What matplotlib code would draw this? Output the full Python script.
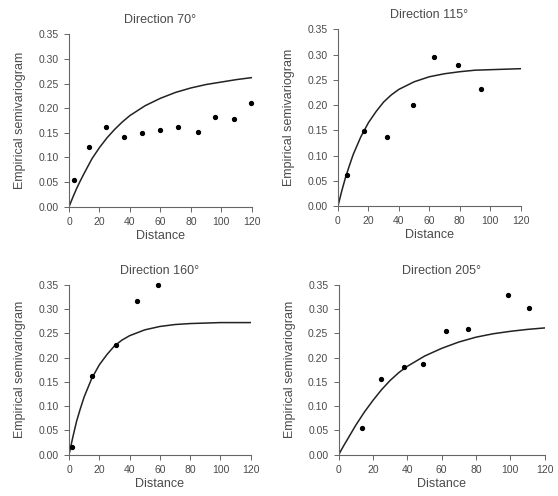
import numpy as np
import matplotlib
matplotlib.use("Agg")
from matplotlib import pyplot as plt

plt.rcParams['font.family'] = ['Liberation Sans', 'DejaVu Sans']

# panel titles
directions = ['Direction 70°', 'Direction 115°', 'Direction 160°', 'Direction 205°']

# empirical semivariogram points (distance, value)
d70 = [3.3, 13.4, 24.5, 35.9, 47.7, 59.8, 71.4, 84.5, 95.9, 108.2, 119.8]
g70 = [0.055, 0.121, 0.162, 0.142, 0.150, 0.155, 0.161, 0.151, 0.183, 0.178, 0.211]

d115 = [5.9, 16.9, 32.2, 49.3, 63.1, 79.0, 93.9]
g115 = [0.061, 0.149, 0.137, 0.200, 0.296, 0.279, 0.231]

d160 = [2.0, 15.5, 30.9, 44.7, 58.8]
g160 = [0.016, 0.162, 0.226, 0.317, 0.349]

d205 = [13.4, 24.9, 38.1, 49.1, 62.7, 75.5, 98.6, 110.7]
g205 = [0.055, 0.156, 0.180, 0.187, 0.254, 0.258, 0.329, 0.303]

# fitted model curves, read at these distances
curve_d = [0, 2.5, 5, 7.5, 10, 15, 20, 25, 30, 35, 40, 50, 60, 70, 80, 90, 100, 110, 120]
fit70 = [0, 0.019, 0.037, 0.053, 0.068, 0.097, 0.120, 0.140, 0.157, 0.172, 0.185,
         0.205, 0.220, 0.232, 0.241, 0.248, 0.253, 0.258, 0.262]
fit115 = [0, 0.030, 0.057, 0.080, 0.102, 0.137, 0.165, 0.187, 0.206, 0.220, 0.231,
          0.246, 0.256, 0.262, 0.266, 0.269, 0.270, 0.271, 0.272]
fit160 = [0, 0.036, 0.069, 0.095, 0.119, 0.157, 0.185, 0.206, 0.224, 0.236, 0.245,
          0.257, 0.264, 0.268, 0.270, 0.271, 0.272, 0.272, 0.272]
fit205 = [0, 0.016, 0.031, 0.046, 0.061, 0.088, 0.112, 0.134, 0.153, 0.169, 0.182,
          0.203, 0.219, 0.232, 0.242, 0.249, 0.254, 0.258, 0.261]

xticks = [0, 20, 40, 60, 80, 100, 120]
yticks = [0.00, 0.05, 0.10, 0.15, 0.20, 0.25, 0.30, 0.35]

points = [(d70, g70), (d115, g115), (d160, g160), (d205, g205)]
fits = [fit70, fit115, fit160, fit205]

# axes boxes in figure fractions [left, bottom, width, height]
boxes = [[0.1237, 0.5833, 0.3274, 0.3476],
         [0.6057, 0.5847, 0.3274, 0.3562],
         [0.1237, 0.0833, 0.3256, 0.3427],
         [0.6070, 0.0833, 0.3692, 0.3427]]

fig = plt.figure(figsize=(5.58, 4.96), dpi=100)
ink = '#4a4a4a'

for i in range(4):
    ax = fig.add_axes(boxes[i])
    ax.plot(curve_d, fits[i], color='#222222', lw=1.1, zorder=2)
    ax.plot(points[i][0], points[i][1], 'o', color='black', ms=2.8, zorder=3, clip_on=False)
    ax.set_xlim(0, 120)
    ax.set_ylim(0, 0.35)
    ax.set_xticks(xticks)
    ax.set_yticks(yticks)
    ax.set_yticklabels(['%.2f' % v for v in yticks])
    for s in ['top', 'right']:
        ax.spines[s].set_visible(False)
    for s in ['left', 'bottom']:
        ax.spines[s].set_color('#666666')
        ax.spines[s].set_linewidth(0.8)
    ax.tick_params(length=3.5, width=0.7, color='#666666', labelsize=7.5,
                   labelcolor=ink, pad=4)
    ax.set_title(directions[i], fontsize=9, color=ink, pad=8)
    ax.set_xlabel('Distance', fontsize=9, color=ink, labelpad=2)
    ax.set_ylabel('Empirical semivariogram', fontsize=9, color=ink, labelpad=9)

fig.savefig('out.png', dpi=100)
